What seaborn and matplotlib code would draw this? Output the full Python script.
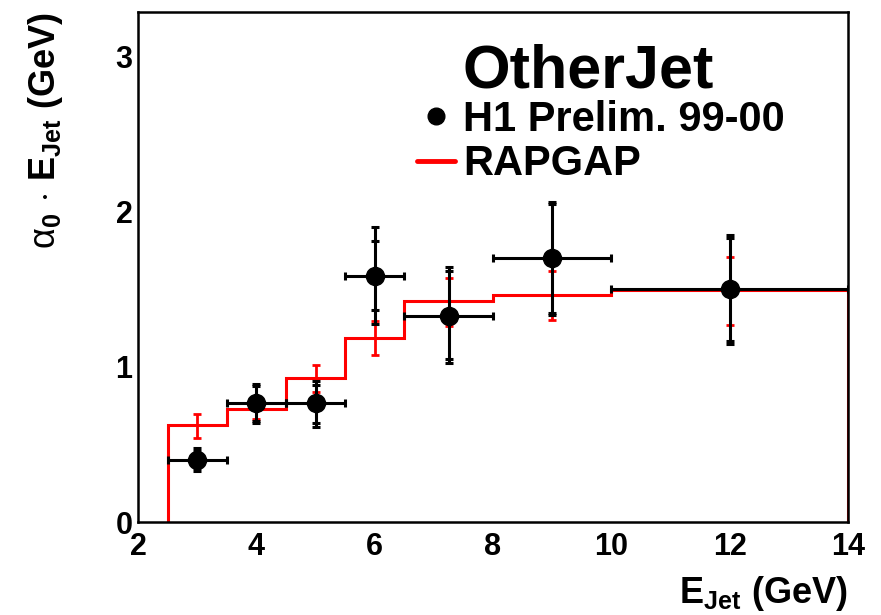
import numpy as np
import pandas as pd
import matplotlib
matplotlib.use("Agg")
import matplotlib.pyplot as plt
import seaborn as sns
from matplotlib.ticker import MultipleLocator
from matplotlib.lines import Line2D

# ---------------- data ----------------
bin_edges = [2.5, 3.5, 4.5, 5.5, 6.5, 8.0, 10.0, 14.0]

data_x = [3.0, 4.0, 5.0, 6.0, 7.26, 9.0, 12.0]
data_y = [0.40, 0.77, 0.77, 1.59, 1.33, 1.70, 1.50]
data_tot_hi = [0.475, 0.89, 0.91, 1.905, 1.647, 2.067, 1.85]
data_tot_lo = [0.33, 0.637, 0.615, 1.28, 1.028, 1.335, 1.148]
data_stat_hi = [0.46, 0.877, 0.885, 1.81, 1.62, 2.05, 1.83]
data_stat_lo = [0.35, 0.65, 0.64, 1.37, 1.05, 1.35, 1.17]

mc_y = [0.626, 0.727, 0.93, 1.19, 1.428, 1.465, 1.495]
mc_hi = [0.697, 0.79, 1.015, 1.297, 1.576, 1.62, 1.71]
mc_lo = [0.544, 0.665, 0.837, 1.077, 1.265, 1.30, 1.27]

x_ticks = [2, 4, 6, 8, 10, 12, 14]
y_ticks = [0, 1, 2, 3]

# ---------------- style ----------------
sns.set_style("white")
plt.rcParams["font.family"] = ["Liberation Sans", "DejaVu Sans"]
plt.rcParams["mathtext.fontset"] = "custom"
plt.rcParams["mathtext.rm"] = "Liberation Sans"
plt.rcParams["mathtext.bf"] = "Liberation Sans:bold"
plt.rcParams["mathtext.it"] = "Liberation Sans:italic"
for key in ["text.color", "axes.labelcolor", "xtick.color", "ytick.color",
            "axes.edgecolor"]:
    plt.rcParams[key] = "black"

W, H = 881, 615
fig = plt.figure(figsize=(W / 100, H / 100), dpi=100)
ax = fig.add_axes([138 / W, 1 - 522 / H, (848 - 138) / W, (522 - 12) / H])

edges = np.array(bin_edges)
centers = 0.5 * (edges[:-1] + edges[1:])

# RAPGAP histogram (outline with drops to zero at both ends)
ax.stairs(mc_y, bin_edges, baseline=0, fill=False, color="red",
          linewidth=2.2, zorder=2)
mc_y_a = np.array(mc_y)
ax.errorbar(centers, mc_y_a,
            yerr=[mc_y_a - np.array(mc_lo), np.array(mc_hi) - mc_y_a],
            fmt="none", ecolor="red", elinewidth=2.0, capsize=3, capthick=2.0,
            zorder=3)

# Data points
dx = np.array(data_x)
dy = np.array(data_y)
xerr = [dx - edges[:-1], edges[1:] - dx]
ax.errorbar(dx, dy, xerr=xerr,
            yerr=[dy - np.array(data_tot_lo), np.array(data_tot_hi) - dy],
            fmt="o", color="black", ms=13, elinewidth=2.2, capsize=3,
            capthick=2.2, zorder=5)
ax.errorbar(dx, dy,
            yerr=[dy - np.array(data_stat_lo), np.array(data_stat_hi) - dy],
            fmt="none", ecolor="black", elinewidth=0, capsize=3, capthick=2.2,
            zorder=5)

# axes
ax.set_xlim(2, 14)
ax.set_ylim(0, 3.29)
ax.set_xticks(x_ticks)
ax.set_yticks(y_ticks)
ax.xaxis.set_minor_locator(MultipleLocator(0.5))
ax.yaxis.set_minor_locator(MultipleLocator(0.2))
ax.tick_params(axis="x", which="major", direction="in", length=11, width=1.5,
               labelsize=22, pad=7)
ax.tick_params(axis="x", which="minor", direction="in", length=5.5, width=1.5)
ax.tick_params(axis="y", which="major", direction="in", length=15, width=1.5,
               labelsize=22, pad=4)
ax.tick_params(axis="y", which="minor", direction="in", length=7.5, width=1.5)
for lab in ax.get_xticklabels() + ax.get_yticklabels():
    lab.set_fontweight("bold")
for sp in ax.spines.values():
    sp.set_linewidth(1.8)
    sp.set_color("black")
    sp.set_zorder(6)
ax.grid(False)

ax.set_xlabel(r"$\mathbf{E}_{\mathbf{Jet}}$ (GeV)", fontsize=26,
              fontweight="bold", loc="right", labelpad=9)
ax.set_ylabel(r"$\mathrm{\alpha}_{\mathbf{0}}\,\cdot\,\mathbf{E}_{\mathbf{Jet}}$ (GeV)",
              fontsize=26, fontweight="bold", loc="top", labelpad=36)

# legend / title
fig.text(462 / W, 1 - 87 / H, "OtherJet", fontsize=44, fontweight="bold",
         va="baseline", ha="left")
handles = [
    Line2D([], [], marker="o", color="black", linestyle="none", ms=12),
    Line2D([], [], color="red", linewidth=3.5),
]
leg = fig.legend(handles, ["H1 Prelim. 99-00", "RAPGAP"], loc="upper left",
                 bbox_to_anchor=(417 / W, 1 - 100 / H), frameon=False,
                 prop={"family": "Liberation Sans", "weight": "bold", "size": 30},
                 handlelength=0.9, handletextpad=0.2, labelspacing=0.1,
                 borderpad=0, borderaxespad=0)

fig.savefig("out.png", dpi=100)
